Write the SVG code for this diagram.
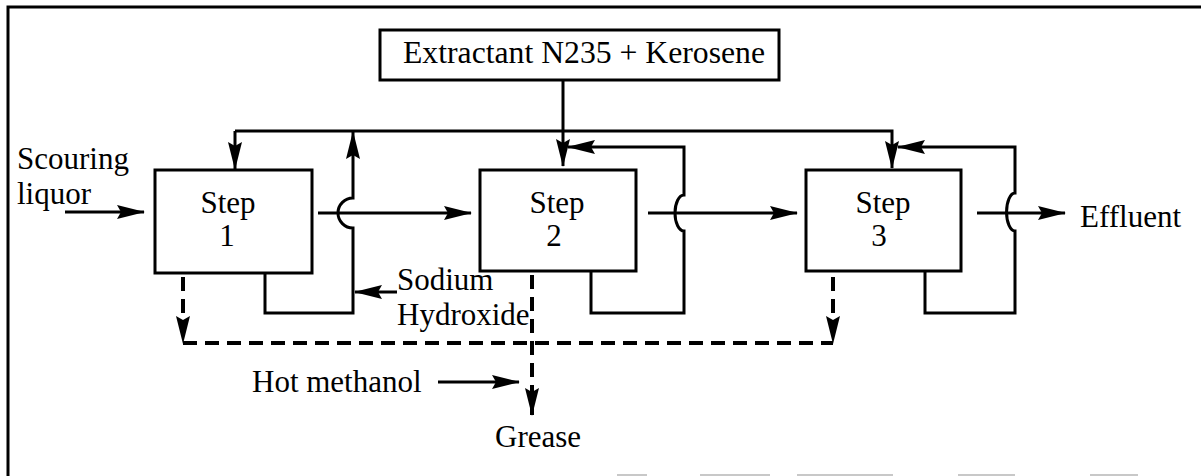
<svg xmlns="http://www.w3.org/2000/svg" width="1201" height="476" viewBox="0 0 1201 476">
  <style>
    .txt { font-family: "Liberation Serif", "Times New Roman", serif; font-size: 31px; fill: #000; }
    .mid { text-anchor: middle; }
    .box { fill: #fff; stroke: #000; stroke-width: 3; }
    .ln { fill: none; stroke: #000; stroke-width: 3; }
    .dash { fill: none; stroke: #000; stroke-width: 4; stroke-dasharray: 14 8; }
    .frame { fill: none; stroke: #000; stroke-width: 3; }
    .scan { fill: none; stroke: #c8c8c8; stroke-width: 2; }
  </style>
  <defs>
    <marker id="ah" viewBox="0 0 28 14" refX="27" refY="7" markerWidth="28" markerHeight="14" markerUnits="userSpaceOnUse" orient="auto">
      <path d="M0,0 L28,7 L0,14 L4,7 Z" fill="#000"/>
    </marker>
  </defs>
  <rect width="1201" height="476" fill="#fff"/>

  <g id="frame">
    <path class="frame" d="M8,476 V7 H1201"/>
    <path class="scan" d="M617,475 H647 M700,475 H770 M797,475 H893 M958,475 H1015 M1090,475 H1138"/>
  </g>

  <g id="connectors">
    <path class="ln" d="M65,212 H144" marker-end="url(#ah)"/>
    <path class="ln" d="M563,80 V166" marker-end="url(#ah)"/>
    <path class="ln" d="M235,131 V169" marker-end="url(#ah)"/>
    <path class="ln" d="M235,131 H892 V168" marker-end="url(#ah)"/>
    <path class="ln" d="M265,273 V313 H353 V228 A15,15 0 0 1 353,198 V132" marker-end="url(#ah)"/>
    <path class="ln" d="M397,292 H355" marker-end="url(#ah)"/>
    <path class="ln" d="M318,213 H471" marker-end="url(#ah)"/>
    <path class="ln" d="M591,271 V313 H684 V231 A9,18 0 0 1 684,195 V147 H568" marker-end="url(#ah)"/>
    <path class="ln" d="M648,213 H797" marker-end="url(#ah)"/>
    <path class="ln" d="M925,271 V313 H1015 V231 A8,18 0 0 1 1015,193 V147 H898" marker-end="url(#ah)"/>
    <path class="ln" d="M977,213 H1065" marker-end="url(#ah)"/>
    <path class="ln" d="M438,382 H519" marker-end="url(#ah)"/>
    <path class="dash" d="M183,277 V343" marker-end="url(#ah)"/>
    <path class="dash" d="M183,343 H833"/>
    <path class="dash" d="M833,277 V343" marker-end="url(#ah)"/>
    <path class="dash" d="M532,275 V415" marker-end="url(#ah)"/>
  </g>

  <g id="extractant">
    <rect class="box" x="380" y="30" width="399" height="50"/>
    <text class="txt mid" x="584" y="63" textLength="362" lengthAdjust="spacingAndGlyphs">Extractant N235 + Kerosene</text>
  </g>

  <g id="step1">
    <rect class="box" x="155" y="170" width="157" height="103"/>
    <text class="txt mid" x="228" y="213">Step</text>
    <text class="txt mid" x="227" y="246">1</text>
  </g>

  <g id="step2">
    <rect class="box" x="480" y="170" width="156" height="101"/>
    <text class="txt mid" x="557" y="213">Step</text>
    <text class="txt mid" x="554" y="246">2</text>
  </g>

  <g id="step3">
    <rect class="box" x="806" y="170" width="155" height="101"/>
    <text class="txt mid" x="883" y="213">Step</text>
    <text class="txt mid" x="879" y="246">3</text>
  </g>

  <g id="scouring-liquor">
    <text class="txt" x="17" y="169">Scouring</text>
    <text class="txt" x="17" y="204">liquor</text>
  </g>

  <g id="sodium-hydroxide">
    <text class="txt" x="397" y="290">Sodium</text>
    <text class="txt" x="397" y="325">Hydroxide</text>
  </g>

  <g id="hot-methanol">
    <text class="txt" x="252" y="392">Hot methanol</text>
  </g>

  <g id="grease">
    <text class="txt" x="495" y="447">Grease</text>
  </g>

  <g id="effluent">
    <text class="txt" x="1080" y="227">Effluent</text>
  </g>
</svg>
